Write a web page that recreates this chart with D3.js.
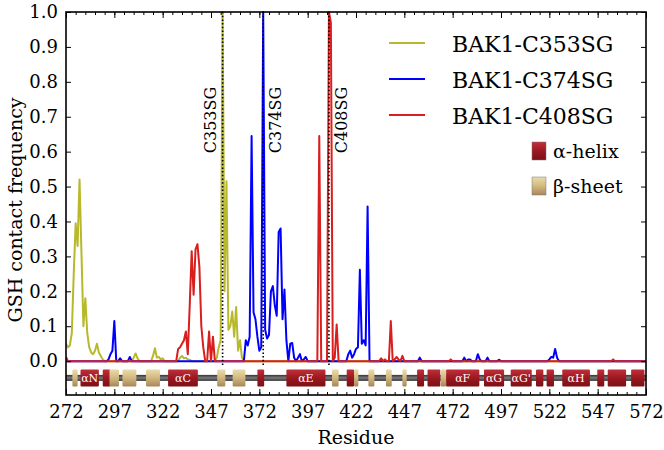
<!DOCTYPE html>
<html lang="en">
<head>
<meta charset="utf-8">
<title>GSH contact frequency</title>
<script src="https://cdn.jsdelivr.net/npm/d3@7"></script>
<style>
  body { margin: 0; background: #fff; }
  text { font-family: "DejaVu Serif", serif; fill: #000; }
</style>
</head>
<body>
<script>

// residue numbers on the x axis (first and last)
var firstResidue = 272;
var lastResidue = 572;

// contact frequency per residue, 272 .. 572 (rows of 25: 272, 297, 322, ...)
var c353 = [
  0.05, 0.04, 0.045, 0.08, 0.25, 0.395, 0.33, 0.52, 0.31, 0.10, 0.18, 0.08, 0.04, 0.025, 0.02, 0.03, 0.05, 0.025, 0.015, 0.005, 0, 0, 0, 0, 0,
  0, 0, 0, 0, 0, 0, 0, 0, 0, 0, 0.01, 0.022, 0.008, 0, 0, 0, 0, 0, 0, 0, 0.015, 0.037, 0.01, 0.012, 0.005,
  0.008, 0, 0, 0, 0, 0, 0, 0, 0, 0.01, 0.015, 0.008, 0.01, 0.005, 0.004, 0, 0, 0, 0, 0, 0, 0, 0, 0, 0,
  0, 0, 0, 0.01, 0.04, 0.06, 1.0, 0.2, 0.515, 0.09, 0.10, 0.142, 0.07, 0.155, 0.03, 0.06, 0.01, 0, 0, 0, 0, 0, 0, 0, 0,
  0, 0, 0, 0, 0, 0, 0, 0, 0, 0, 0, 0, 0, 0, 0, 0, 0, 0, 0, 0, 0, 0, 0, 0, 0,
  0, 0, 0, 0, 0, 0, 0, 0, 0, 0, 0, 0, 0, 0, 0, 0, 0, 0, 0, 0, 0, 0, 0, 0, 0,
  0, 0, 0, 0, 0, 0, 0, 0, 0, 0, 0, 0, 0, 0, 0, 0, 0, 0, 0, 0, 0, 0, 0, 0, 0,
  0, 0, 0, 0, 0, 0, 0, 0, 0, 0, 0, 0, 0, 0, 0, 0, 0, 0, 0, 0, 0, 0, 0, 0, 0,
  0, 0, 0, 0, 0, 0, 0, 0, 0, 0, 0, 0, 0, 0, 0, 0, 0, 0, 0, 0, 0, 0, 0, 0, 0,
  0, 0, 0, 0, 0, 0, 0, 0, 0, 0, 0, 0, 0, 0, 0, 0, 0, 0, 0, 0, 0, 0, 0, 0, 0,
  0, 0, 0, 0, 0, 0, 0, 0, 0, 0, 0, 0, 0, 0, 0, 0, 0, 0, 0, 0, 0, 0, 0, 0, 0,
  0, 0, 0, 0, 0, 0, 0, 0, 0, 0, 0, 0, 0, 0, 0, 0, 0, 0, 0, 0, 0, 0, 0, 0, 0,
  0
];

var c374 = [
  0, 0, 0, 0, 0, 0, 0, 0, 0, 0, 0, 0, 0, 0, 0, 0, 0, 0, 0, 0, 0, 0, 0.005, 0.02, 0.03,
  0.115, 0, 0, 0.008, 0, 0, 0, 0, 0.012, 0, 0, 0, 0, 0, 0, 0, 0, 0, 0, 0, 0, 0, 0, 0, 0,
  0, 0, 0, 0, 0, 0, 0, 0, 0, 0, 0, 0, 0, 0, 0, 0, 0, 0, 0, 0, 0, 0, 0, 0, 0,
  0, 0, 0, 0, 0, 0, 0, 0, 0, 0, 0, 0, 0, 0, 0, 0, 0, 0, 0.06, 0.045, 0.07, 0.645, 0.14, 0.12, 0.07,
  0.03, 0.04, 1.0, 0.09, 0.065, 0.075, 0.2, 0.215, 0.16, 0.13, 0.37, 0.38, 0.12, 0.205, 0.06, 0, 0.05, 0.052, 0.01, 0, 0.01, 0.02, 0, 0.005, 0.012,
  0, 0, 0, 0, 0, 0, 0, 0, 0, 0, 0, 0, 0, 0, 0, 0, 0, 0, 0, 0, 0, 0.02, 0.03, 0.01, 0.02,
  0.035, 0.04, 0.262, 0.05, 0.06, 0.045, 0.443, 0, 0, 0, 0, 0, 0, 0, 0, 0, 0, 0, 0, 0, 0, 0, 0, 0, 0,
  0, 0, 0, 0, 0, 0, 0, 0, 0.01, 0, 0, 0, 0, 0, 0, 0, 0, 0, 0, 0, 0, 0, 0, 0, 0,
  0, 0, 0, 0, 0, 0, 0.01, 0, 0.005, 0.005, 0, 0, 0, 0.02, 0.005, 0, 0, 0, 0.01, 0, 0, 0, 0, 0, 0.004,
  0, 0, 0, 0, 0, 0, 0, 0, 0, 0, 0, 0, 0, 0, 0, 0, 0, 0, 0, 0, 0, 0, 0, 0, 0,
  0.005, 0.012, 0.01, 0.035, 0.01, 0, 0, 0, 0, 0, 0, 0, 0, 0, 0, 0, 0, 0, 0, 0, 0, 0, 0, 0, 0,
  0, 0, 0, 0, 0, 0, 0, 0, 0, 0, 0, 0, 0, 0, 0, 0, 0, 0, 0, 0, 0, 0, 0, 0, 0,
  0
];

var c408 = [
  0.012, 0, 0, 0, 0, 0, 0, 0, 0, 0, 0, 0, 0, 0, 0, 0, 0, 0, 0, 0, 0, 0, 0, 0, 0,
  0, 0, 0, 0, 0, 0, 0, 0, 0, 0, 0, 0, 0, 0, 0, 0, 0, 0, 0, 0, 0, 0, 0, 0, 0,
  0, 0, 0, 0, 0, 0, 0, 0, 0.035, 0.04, 0.05, 0.06, 0.085, 0.02, 0.16, 0.315, 0.19, 0.32, 0.335, 0.27, 0.1, 0.04, 0, 0, 0.085,
  0, 0.07, 0, 0, 0, 0, 0, 0, 0, 0, 0, 0, 0, 0, 0, 0, 0, 0, 0, 0, 0, 0, 0, 0, 0,
  0, 0, 0, 0, 0, 0, 0, 0, 0, 0, 0, 0, 0, 0, 0, 0, 0, 0, 0, 0, 0, 0, 0, 0, 0,
  0, 0, 0, 0, 0, 0, 0.645, 0, 0, 0, 0, 1.0, 0.97, 0, 0.01, 0.105, 0, 0, 0, 0, 0, 0, 0, 0, 0,
  0, 0, 0, 0, 0, 0, 0, 0, 0, 0, 0, 0, 0, 0.008, 0, 0.005, 0, 0, 0.115, 0, 0.005, 0.012, 0.005, 0, 0.015,
  0, 0, 0, 0, 0, 0, 0, 0, 0, 0, 0, 0, 0, 0, 0, 0, 0, 0, 0, 0, 0, 0, 0, 0, 0.005,
  0, 0, 0, 0, 0, 0, 0, 0, 0, 0, 0, 0, 0, 0, 0, 0, 0, 0, 0, 0, 0, 0, 0, 0, 0,
  0, 0, 0, 0, 0, 0, 0, 0, 0, 0, 0, 0, 0, 0, 0, 0, 0, 0, 0, 0, 0, 0, 0, 0, 0,
  0, 0, 0, 0, 0, 0, 0, 0, 0, 0, 0, 0, 0, 0, 0, 0, 0, 0, 0, 0, 0, 0, 0, 0, 0,
  0, 0, 0, 0, 0, 0, 0, 0, 0.005, 0, 0, 0, 0, 0, 0, 0, 0, 0, 0, 0, 0, 0, 0, 0, 0,
  0
];

var seriesNames = ["BAK1-C353SG", "BAK1-C374SG", "BAK1-C408SG"];
var seriesColors = ["#b7b92a", "#0000ff", "#d91e1e"];

// the three cysteines, marked with dotted lines
var cysResidues = [353, 374, 408];
var cysLabels = ["C353SG", "C374SG", "C408SG"];

// secondary structure: [start, end, label]
var helices = [
  [279.5, 289, "αN"], [291, 295, ""], [324.8, 340.2, "αC"], [371, 374.5, ""],
  [386, 406.2, "αE"], [417.2, 421, ""], [453.6, 457.2, ""], [459, 465.6, ""],
  [468.6, 485.8, "αF"], [488.2, 498.6, "αG"], [502, 512.9, "αG'"], [515.1, 518.9, ""],
  [520.6, 524.4, ""], [528.7, 543, "αH"], [546.8, 550.4, ""], [552.2, 561.7, ""],
  [564.3, 571.2, ""]
];
var sheets = [
  [275.3, 278], [294.5, 299.4], [301.2, 308.4], [313.4, 320.6], [350.2, 354.4],
  [358.2, 364.8], [409.6, 413], [421, 423.2], [428.4, 431.5], [437.5, 440.5],
  [446, 448.2], [465.8, 468.6]
];

var xTicks = [272, 297, 322, 347, 372, 397, 422, 447, 472, 497, 522, 547, 572];
var yTicks = [0, 0.1, 0.2, 0.3, 0.4, 0.5, 0.6, 0.7, 0.8, 0.9, 1.0];

// chart size
var w = 664;
var h = 450;
var padLeft = 66, padRight = 646, padTop = 12, padBottom = 395;

var svg = d3.select("body")
  .append("svg")
  .attr("width", w)
  .attr("height", h);

var xScale = d3.scaleLinear()
  .domain([firstResidue, lastResidue])
  .range([padLeft, padRight]);

var yScale = d3.scaleLinear()
  .domain([-0.097, 1.0])
  .range([padBottom, padTop]);

var defs = svg.append("defs");
defs.append("clipPath").attr("id", "plotclip")
  .append("rect")
  .attr("x", padLeft).attr("y", padTop - 1)
  .attr("width", padRight - padLeft).attr("height", padBottom - padTop + 1);

function vGrad(id, stops) {
  var g = defs.append("linearGradient").attr("id", id)
    .attr("x1", 0).attr("y1", 0).attr("x2", 0).attr("y2", 1);
  stops.forEach(function(s) {
    g.append("stop").attr("offset", s[0]).attr("stop-color", s[1]);
  });
}
vGrad("helixGrad", [[0, "#c0303a"], [0.5, "#9c1820"], [1, "#7c1016"]]);
vGrad("sheetGrad", [[0, "#eadcaa"], [0.5, "#d2b880"], [1, "#a8875a"]]);
vGrad("barGrad", [[0, "#333"], [0.5, "#7a7a7a"], [1, "#333"]]);

// secondary structure strip
var stripY = yScale(-0.048);
svg.append("rect")
  .attr("x", padLeft)
  .attr("y", stripY - 3)
  .attr("width", padRight - padLeft)
  .attr("height", 6)
  .style("fill", "url(#barGrad)");

svg.selectAll("rect.helix")
  .data(helices)
  .enter()
  .append("rect")
  .attr("class", "helix")
  .attr("x", function(d) { return xScale(d[0]); })
  .attr("y", stripY - 8.5)
  .attr("width", function(d) { return xScale(d[1]) - xScale(d[0]); })
  .attr("height", 17)
  .attr("rx", 1)
  .style("fill", "url(#helixGrad)");

svg.selectAll("rect.sheet")
  .data(sheets)
  .enter()
  .append("rect")
  .attr("class", "sheet")
  .attr("x", function(d) { return xScale(d[0]); })
  .attr("y", stripY - 8.5)
  .attr("width", function(d) { return xScale(d[1]) - xScale(d[0]); })
  .attr("height", 17)
  .attr("rx", 1)
  .style("fill", "url(#sheetGrad)");

svg.selectAll("text.hlabel")
  .data(helices.filter(function(d) { return d[2] != ""; }))
  .enter()
  .append("text")
  .attr("class", "hlabel")
  .attr("x", function(d) { return xScale((d[0] + d[1]) / 2); })
  .attr("y", stripY)
  .attr("dy", "0.35em")
  .attr("text-anchor", "middle")
  .style("font-size", "11px")
  .style("fill", "#fff")
  .text(function(d) { return d[2]; });

// lines
var residues = c353.map(function(v, i) { return firstResidue + i; });
var line = d3.line()
  .x(function(d, i) { return xScale(residues[i]); })
  .y(function(d) { return yScale(d); });

var plot = svg.append("g").attr("clip-path", "url(#plotclip)");
[c353, c374, c408].forEach(function(s, k) {
  plot.append("path")
    .datum(s)
    .attr("d", line)
    .style("fill", "none")
    .style("stroke", seriesColors[k])
    .style("stroke-width", 2)
    .style("stroke-linejoin", "round");
});

// dotted lines at the cysteines, on top of the lines
svg.selectAll("line.cys")
  .data(cysResidues)
  .enter()
  .append("line")
  .attr("class", "cys")
  .attr("x1", function(d) { return xScale(d); })
  .attr("x2", function(d) { return xScale(d); })
  .attr("y1", padTop)
  .attr("y2", yScale(-0.014))
  .style("stroke", "#000")
  .style("stroke-width", 1.6)
  .style("stroke-dasharray", "1.5,2.2");

// labels beside the dotted lines
svg.selectAll("text.cyslabel")
  .data(cysResidues)
  .enter()
  .append("text")
  .attr("class", "cyslabel")
  .attr("transform", function(d, i) {
    var dx = (i == 0) ? -12 : 12;
    return "translate(" + (xScale(d) + dx) + "," + 120 + ") rotate(-90)";
  })
  .attr("text-anchor", "middle")
  .attr("dy", "0.35em")
  .style("font-size", "16px")
  .text(function(d, i) { return cysLabels[i]; });

// axes
var minorTicks = d3.range(firstResidue, lastResidue + 1, 5);
var xAxisBottom = d3.axisBottom(xScale)
  .tickValues(xTicks)
  .tickSize(-6)
  .tickPadding(10)
  .tickFormat(d3.format("d"));
var xMinorBottom = d3.axisBottom(xScale).tickValues(minorTicks).tickSize(-3).tickFormat("");
var xAxisTop = d3.axisTop(xScale).tickValues(xTicks).tickSize(-6).tickFormat("");
var xMinorTop = d3.axisTop(xScale).tickValues(minorTicks).tickSize(-3).tickFormat("");
var yAxisLeft = d3.axisLeft(yScale)
  .tickValues(yTicks)
  .tickSize(-5)
  .tickPadding(8)
  .tickFormat(d3.format(".1f"));
var yAxisRight = d3.axisRight(yScale).tickValues(yTicks).tickSize(-5).tickFormat("");

function addAxis(axis, tx, ty) {
  var g = svg.append("g")
    .attr("transform", "translate(" + tx + "," + ty + ")")
    .call(axis);
  g.select(".domain").remove();
  g.selectAll("line").style("stroke", "#000").style("stroke-width", 1);
  g.selectAll("text").style("font-family", "DejaVu Serif, serif").style("font-size", "18px");
  return g;
}
addAxis(xMinorBottom, 0, padBottom);
addAxis(xAxisBottom, 0, padBottom);
addAxis(xMinorTop, 0, padTop);
addAxis(xAxisTop, 0, padTop);
addAxis(yAxisLeft, padLeft, 0);
addAxis(yAxisRight, padRight, 0);

// frame
svg.append("rect")
  .attr("x", padLeft)
  .attr("y", padTop)
  .attr("width", padRight - padLeft)
  .attr("height", padBottom - padTop)
  .style("fill", "none")
  .style("stroke", "#000")
  .style("stroke-width", 1.6);

// axis titles
svg.append("text")
  .attr("x", (padLeft + padRight) / 2)
  .attr("y", 444)
  .attr("text-anchor", "middle")
  .style("font-size", "19px")
  .text("Residue");

svg.append("text")
  .attr("transform", "translate(15,210) rotate(-90)")
  .attr("text-anchor", "middle")
  .attr("dy", "0.35em")
  .style("font-size", "19px")
  .text("GSH contact frequency");

// legend
var legend = svg.append("g");
seriesNames.forEach(function(name, i) {
  var ly = 43 + i * 36;
  legend.append("line")
    .attr("x1", 389).attr("x2", 425)
    .attr("y1", ly).attr("y2", ly)
    .style("stroke", seriesColors[i])
    .style("stroke-width", 2);
  legend.append("text")
    .attr("x", 452)
    .attr("y", ly + 1)
    .attr("dy", "0.35em")
    .style("font-size", "22px")
    .text(name);
});

var boxes = [["url(#helixGrad)", "α-helix"], ["url(#sheetGrad)", "β-sheet"]];
boxes.forEach(function(b, i) {
  var by = 151 + i * 35;
  legend.append("rect")
    .attr("x", 532).attr("y", by - 9)
    .attr("width", 14).attr("height", 18)
    .style("fill", b[0])
    .style("stroke", "#777")
    .style("stroke-width", 0.5);
  legend.append("text")
    .attr("x", 553)
    .attr("y", by)
    .attr("dy", "0.35em")
    .style("font-size", "19px")
    .text(b[1]);
});

</script>
</body>
</html>
